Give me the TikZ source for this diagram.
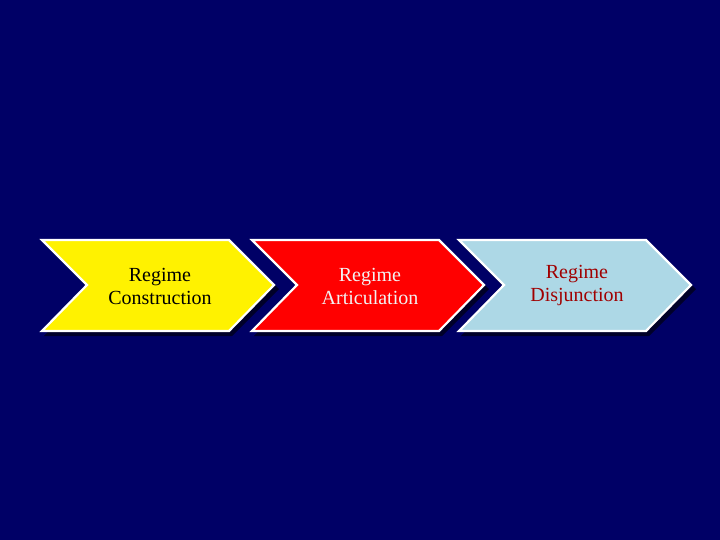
\documentclass[tikz,border=0pt]{standalone}
\usepackage{fontspec}
\setmainfont{Liberation Serif}
\begin{document}
\begin{tikzpicture}[x=1pt,y=-1pt,
  chev/.style={draw=white,line width=2.2pt,line join=miter},
  lbl/.style={font=\fontsize{20}{23}\selectfont,align=center}]
\definecolor{bg}{RGB}{0,0,102}
\definecolor{sh}{RGB}{0,0,40}
\definecolor{lb}{RGB}{173,216,230}
\definecolor{rd}{RGB}{255,0,0}
\definecolor{dr}{RGB}{160,0,0}
\fill[bg] (0,0) rectangle (720,540);
\useasboundingbox (0,0) rectangle (720,540);
\foreach \x/\c in {40/yellow,250/rd,457/lb}{
  \fill[sh] (\x+4,244) -- (\x+192,244) -- (\x+239,289) -- (\x+192,336) -- (\x+4,336) -- (\x+49,289) -- cycle;
  \draw[chev,fill=\c] (\x+2,240) -- (\x+189,240) -- (\x+234,285) -- (\x+189,331) -- (\x+2,331) -- (\x+47,285) -- cycle;
}
\node[lbl,text=black] (a) at (160,286) {Regime\\Construction};
\node[lbl,text=white!90!gray] (b) at (370,286) {Regime\\Articulation};
\node[lbl,text=dr] (c) at (577,286) {Regime\\Disjunction};
\end{tikzpicture}
\end{document}
